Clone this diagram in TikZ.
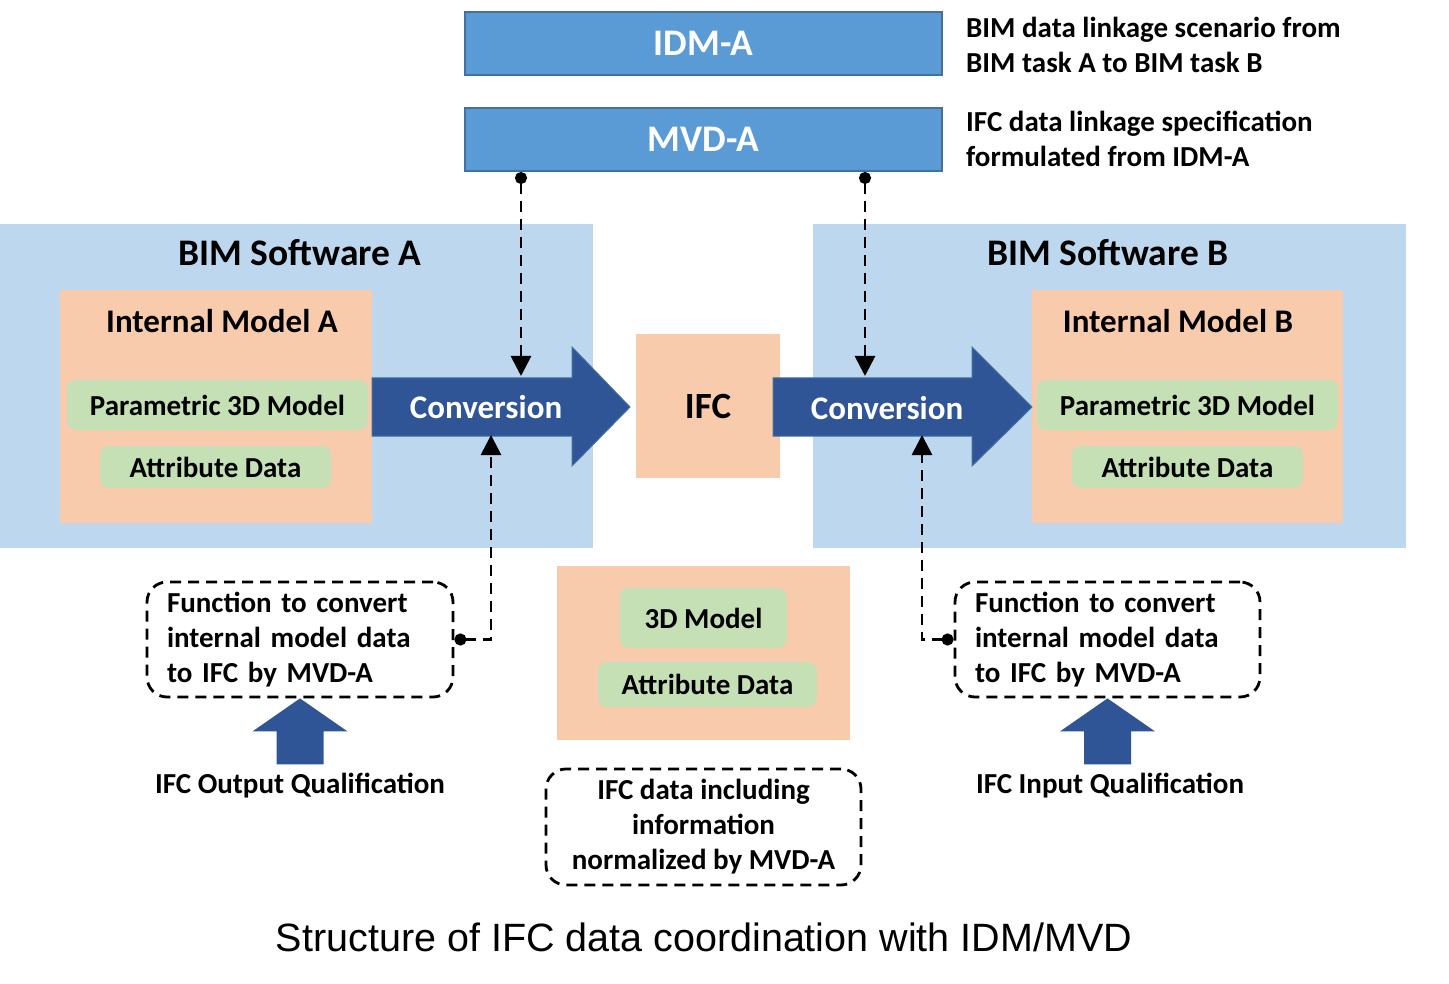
\documentclass[tikz,border=0pt]{standalone}
\usepackage{fontspec}
\setmainfont{Carlito}
\newfontfamily\capfont{Liberation Sans}
\usepackage{tikz}
\usetikzlibrary{arrows.meta,positioning,calc}
\definecolor{idmblue}{HTML}{5B9BD5}
\definecolor{idmline}{HTML}{41719C}
\definecolor{panel}{HTML}{BDD7EE}
\definecolor{peach}{HTML}{F8CBAD}
\definecolor{leaf}{HTML}{C5E0B4}
\definecolor{navy}{HTML}{2F5597}

\begin{document}
\begin{tikzpicture}[x=1pt,y=-1pt,
  every node/.style={font=\bfseries\fontsize{29}{35}\selectfont,inner sep=0pt},
  bar/.style={draw=idmline,line width=2pt,fill=idmblue,text=white,minimum width=477pt,minimum height=63pt,font=\bfseries\fontsize{37.5}{40}\selectfont},
  soft/.style={fill=panel,minimum width=593pt,minimum height=324pt},
  model/.style={fill=peach},
  chip/.style={fill=leaf,rounded corners=9pt},
  title/.style={font=\bfseries\fontsize{37.5}{40}\selectfont},
  subtitle/.style={font=\bfseries\fontsize{33}{36}\selectfont},
  convtext/.style={text=white,font=\bfseries\fontsize{33}{36}\selectfont},
  fat/.style={fill=navy},
  dashbox/.style={draw,line width=2.8pt,dash pattern=on 11pt off 7pt,rounded corners=20pt},
  link/.style={line width=2.8pt,dash pattern=on 11pt off 7pt,{Circle[length=12pt]}-{Triangle[length=20pt,width=20pt]}}]
\useasboundingbox[fill=white] (0,0) rectangle (1449,984);

% top bars
\node[bar] (idm) at (703.5,43.5) {IDM-A};
\node[bar] (mvd) at (703.5,139.5) {MVD-A};
\node[anchor=west,align=left] (idmtext) at (966,45) {BIM data linkage scenario from\\BIM task A to BIM task B};
\node[anchor=west,align=left] (mvdtext) at (966,139) {IFC data linkage specification\\formulated from IDM-A};

% software A
\node[soft] (swa) at (296.5,386) {};
\node[title] (swatitle) at (300,253) {BIM Software A};
\node[model,minimum width=312pt,minimum height=233pt] (ima) at (216,406.5) {};
\node[subtitle] (imatitle) at (222,321) {Internal Model A};
\node[chip,minimum width=301pt,minimum height=50pt] (pma) at (217.5,405) {Parametric 3D Model};
\node[chip,minimum width=231pt,minimum height=42pt] (ada) at (215.5,467) {Attribute Data};

% software B
\node[soft] (swb) at (1109.5,386) {};
\node[title] (swbtitle) at (1108,253) {BIM Software B};
\node[model,minimum width=311pt,minimum height=233pt] (imb) at (1187.5,406.5) {};
\node[subtitle] (imbtitle) at (1178,321) {Internal Model B};
\node[chip,minimum width=301pt,minimum height=50pt] (pmb) at (1187.5,405) {Parametric 3D Model};
\node[chip,minimum width=231pt,minimum height=42pt] (adb) at (1187.5,467) {Attribute Data};

% conversion and IFC
\node[model,minimum width=144pt,minimum height=144pt,font=\bfseries\fontsize{37}{40}\selectfont] (ifc) at (708,406) {IFC};
\filldraw[fat,draw=idmline,line width=1pt] (372,378) -- (572,378) -- (572,347) -- (630,407) -- (572,466) -- (572,436) -- (372,436) -- cycle;
\node[convtext] (conva) at (486,407) {Conversion};
\filldraw[fat,draw=idmline,line width=1pt] (773,378) -- (972,378) -- (972,347) -- (1032,407) -- (972,466) -- (972,436) -- (773,436) -- cycle;
\node[convtext] (convb) at (887,408) {Conversion};

% IFC data
\node[model,minimum width=293pt,minimum height=174pt] (ifcdata) at (703.5,653) {};
\node[chip,minimum width=167pt,minimum height=60pt] (m3d) at (703.5,618) {3D Model};
\node[chip,minimum width=219pt,minimum height=45pt] (ad3) at (707.5,684.5) {Attribute Data};
\node[dashbox,minimum width=315pt,minimum height=116pt,align=center] (note) at (703.5,827) {IFC data including\\information\\normalized by MVD-A};

% functions
\node[dashbox,minimum width=306pt,minimum height=115pt,text width=266pt,inner xsep=20pt,align=left] (funa) at (300,639.5) {Function to convert\\internal model data\\to IFC by MVD-A};
\node[dashbox,minimum width=305pt,minimum height=115pt,text width=265pt,inner xsep=20pt,align=left] (funb) at (1107.5,639.5) {Function to convert\\internal model data\\to IFC by MVD-A};
\fill[fat] (funa.south) -- ++(47.5,33) -- ++(-24,0) -- ++(0,33) -- ++(-47,0) -- ++(0,-33) -- ++(-24,0) -- cycle;
\fill[fat] (funb.south) -- ++(47.5,33) -- ++(-24,0) -- ++(0,33) -- ++(-47,0) -- ++(0,-33) -- ++(-24,0) -- cycle;
\node (outq) at (300,786) {IFC Output Qualification};
\node (inq) at (1110,786) {IFC Input Qualification};

% dependencies
\coordinate (tapa) at (521,376);
\coordinate (tapb) at (865,376);
\coordinate (tapc) at (491,435);
\coordinate (tapd) at (922,435);
\draw[link] (mvd.south -| tapa) -- (tapa);
\draw[link] (mvd.south -| tapb) -- (tapb);
\draw[link] (funa.east) -| (tapc);
\draw[link] (funb.west) -| (tapd);

\node[font=\capfont\fontsize{39.5}{44}\selectfont] (caption) at (704,937) {Structure of IFC data coordination with IDM/MVD};
\end{tikzpicture}
\end{document}
